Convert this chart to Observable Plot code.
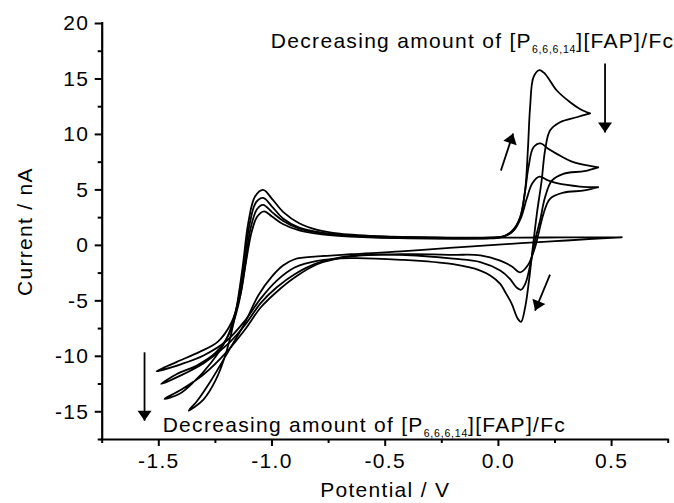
<!DOCTYPE html>
<html><head><meta charset="utf-8">
<script src="https://cdn.jsdelivr.net/npm/d3@7"></script>
<script src="https://cdn.jsdelivr.net/npm/@observablehq/plot@0.6"></script>
<style>
body{margin:0;background:#fff}
svg text{letter-spacing:1.3px}
svg text.note{letter-spacing:1.1px}
svg text.title{letter-spacing:2.6px}
</style>
</head><body><div id="chart"></div>
<script>
// Cyclic voltammograms, sweep order, [potential V, current nA]
const cvA = [[0.405,11.9],[0.346,11.55],[0.272,11.1],[0.228,10.35],[0.206,8.55],[0.191,5.84],[0.17,2.87],[0.153,0.0],[0.135,-3.2],[0.118,-5.6],[0.10,-6.9],[0.085,-6.6],[0.059,-5.27],[0.03,-4.2],[0.008,-3.47],[-0.036,-2.72],[-0.08,-2.27],[-0.2,-1.7],[-0.43,-1.3],[-0.65,-1.15],[-0.8,-1.4],[-0.9,-2.0],[-0.98,-3.2],[-1.05,-4.8],[-1.12,-6.8],[-1.2,-8.6],[-1.3,-9.9],[-1.4,-10.7],[-1.51,-11.35],[-1.42,-10.5],[-1.32,-9.6],[-1.24,-8.7],[-1.18,-7.0],[-1.14,-4.5],[-1.115,-1.5],[-1.09,1.2],[-1.065,2.6],[-1.035,3.07],[-1.0,2.6],[-0.95,1.9],[-0.88,1.35],[-0.78,1.0],[-0.6,0.75],[-0.3,0.62],[-0.05,0.62],[0.008,0.7],[0.04,0.95],[0.066,1.33],[0.096,2.53],[0.118,4.94],[0.13,8.55],[0.14,12.45],[0.155,15.16],[0.181,15.8],[0.206,15.46],[0.258,13.96],[0.317,12.9],[0.36,12.3],[0.405,11.9]];
const cvB = [[0.441,7.04],[0.38,6.7],[0.287,6.45],[0.236,5.84],[0.206,4.34],[0.184,2.24],[0.162,0.47],[0.14,-1.8],[0.12,-3.4],[0.10,-4.0],[0.08,-3.8],[0.05,-3.0],[0.008,-2.27],[-0.08,-1.5],[-0.2,-1.2],[-0.43,-0.85],[-0.65,-0.95],[-0.8,-1.6],[-0.9,-2.6],[-0.98,-3.8],[-1.05,-5.2],[-1.12,-7.2],[-1.2,-9.0],[-1.3,-10.6],[-1.4,-11.7],[-1.49,-12.49],[-1.42,-11.6],[-1.33,-10.8],[-1.25,-9.7],[-1.19,-8.0],[-1.15,-5.5],[-1.12,-2.0],[-1.095,1.5],[-1.065,3.3],[-1.039,3.65],[-1.0,3.0],[-0.95,2.2],[-0.88,1.5],[-0.78,1.1],[-0.6,0.8],[-0.3,0.65],[-0.05,0.65],[0.02,0.8],[0.06,1.3],[0.096,2.5],[0.118,4.9],[0.133,7.05],[0.155,8.85],[0.187,9.2],[0.22,8.7],[0.258,8.25],[0.331,7.5],[0.441,7.04]];
const cvC = [[0.441,5.24],[0.38,4.95],[0.287,4.75],[0.228,4.2],[0.199,2.84],[0.177,1.04],[0.16,-0.3],[0.13,-1.8],[0.096,-2.43],[0.06,-1.9],[0.008,-1.37],[-0.08,-0.9],[-0.2,-0.85],[-0.43,-0.8],[-0.65,-1.0],[-0.8,-1.7],[-0.9,-2.9],[-0.98,-4.2],[-1.05,-5.6],[-1.12,-7.6],[-1.2,-9.6],[-1.3,-11.6],[-1.4,-13.0],[-1.475,-13.84],[-1.41,-13.4],[-1.35,-12.4],[-1.27,-10.6],[-1.2,-8.4],[-1.155,-5.5],[-1.125,-2.0],[-1.1,1.8],[-1.07,3.9],[-1.039,4.28],[-1.0,3.5],[-0.95,2.4],[-0.88,1.6],[-0.78,1.15],[-0.6,0.85],[-0.3,0.7],[-0.05,0.7],[0.03,0.85],[0.07,1.4],[0.1,2.5],[0.125,4.2],[0.15,5.6],[0.181,6.2],[0.22,5.85],[0.258,5.6],[0.36,5.3],[0.441,5.24]];
const cvD = [[0.545,0.73],[0.4,0.56],[0.25,0.38],[0.1,0.2],[0.0,0.07],[-0.2,-0.2],[-0.43,-0.55],[-0.65,-0.8],[-0.8,-1.0],[-0.9,-1.25],[-0.95,-1.8],[-1.0,-2.8],[-1.06,-4.5],[-1.12,-7.0],[-1.2,-9.8],[-1.27,-12.2],[-1.33,-14.0],[-1.368,-14.9],[-1.303,-13.9],[-1.25,-12.2],[-1.2,-9.5],[-1.16,-6.0],[-1.13,-2.0],[-1.105,2.0],[-1.075,4.4],[-1.039,5.0],[-1.0,4.2],[-0.95,3.0],[-0.88,2.0],[-0.8,1.4],[-0.7,1.05],[-0.5,0.8],[-0.2,0.7],[0.1,0.7],[0.3,0.72],[0.545,0.73]];

const xTicks = [-1.5, -1.0, -0.5, 0.0, 0.5];
const xMinor = [-1.75, -1.25, -0.75, -0.25, 0.25, 0.75];
const yTicks = [-15, -10, -5, 0, 5, 10, 15, 20];
const yMinor = [-17.5, -12.5, -7.5, -2.5, 2.5, 7.5, 12.5, 17.5];

const annotText = "Decreasing amount of [P|6,6,6,14|][FAP]/Fc";
const notes = [{x: -1.005, y: 18.44}, {x: -1.483, y: -16.2}];
const arrows = [
  {x1: 0.471, y1: 16.39, x2: 0.471, y2: 10.17},
  {x1: 0.011, y1: 6.74, x2: 0.065, y2: 10.08},
  {x1: 0.228, y1: -2.63, x2: 0.162, y2: -5.88},
  {x1: -1.563, y1: -9.64, x2: -1.563, y2: -15.8}
];

const W = 674, H = 503, ML = 101.7, MR = 6.3, MT = 23, MB = 64;
const xDom = [-1.75, 0.75], yDom = [-17.5, 20];
const kx = (W - ML - MR) / (xDom[1] - xDom[0]);
const ky = (H - MT - MB) / (yDom[1] - yDom[0]);
arrows.forEach(a => {
  const dx = (a.x2 - a.x1) * kx, dy = -(a.y2 - a.y1) * ky;
  a.angle = Math.atan2(dx, -dy) * 180 / Math.PI;
});

const rows = [];
[["A", cvA], ["B", cvB], ["C", cvC], ["D", cvD]].forEach(([s, arr]) =>
  arr.forEach(([E, I]) => rows.push({s, E, I})));

const head = {draw(ctx) { ctx.moveTo(0, 0); ctx.lineTo(-7, 10); ctx.lineTo(7, 10); ctx.closePath(); }};

const fmtX = d => d.toFixed(1);
const fmtY = d => String(d);

const plot = Plot.plot({
  width: W, height: H,
  marginLeft: ML, marginRight: MR, marginTop: MT, marginBottom: MB,
  x: {domain: xDom},
  y: {domain: yDom},
  style: {fontFamily: "'Liberation Sans', Arial, sans-serif", fontSize: "21px", color: "#000", background: "#fff"},
  marks: [
    Plot.axisX({ticks: xTicks, tickSize: 7, tickPadding: 7, tickFormat: fmtX, label: null, strokeWidth: 2}),
    Plot.axisX({ticks: xMinor, tickSize: 4, tickFormat: () => "", label: null, strokeWidth: 2}),
    Plot.axisY({ticks: yTicks, tickSize: 7, tickPadding: 6, tickFormat: fmtY, label: null, strokeWidth: 2}),
    Plot.axisY({ticks: yMinor, tickSize: 4, tickFormat: () => "", label: null, strokeWidth: 2}),
    Plot.ruleX([xDom[0]], {strokeWidth: 2.2, strokeLinecap: "square"}),
    Plot.ruleY([yDom[0]], {strokeWidth: 2.2, strokeLinecap: "square"}),
    Plot.line(rows, {x: "E", y: "I", z: "s", curve: "catmull-rom", stroke: "#000", strokeWidth: 1.8}),
    Plot.link(arrows, {x1: "x1", y1: "y1", x2: "x2", y2: "y2", stroke: "#000", strokeWidth: 1.8}),
    Plot.dot(arrows, {x: "x2", y: "y2", symbol: head, rotate: "angle", fill: "#000", stroke: null, r: 6}),
    Plot.text(notes, {x: "x", y: "y", text: () => annotText, textAnchor: "start", fill: "#000", className: "note"}),
    Plot.text(["Potential / V"], {frameAnchor: "bottom", textAnchor: "middle", dy: 57, fill: "#000", className: "title"}),
    Plot.text(["Current / nA"], {frameAnchor: "left", textAnchor: "middle", dx: -77, rotate: -90, fill: "#000", className: "title"})
  ]
});

// subscript rendering
d3.select(plot).selectAll("text").each(function() {
  const t = this.textContent;
  if (t.indexOf("|") < 0) return;
  const [a, sub, b] = t.split("|");
  const el = d3.select(this);
  el.text(null);
  el.append("tspan").text(a);
  el.append("tspan").attr("font-size", "10.5px").attr("dy", "5").attr("letter-spacing", "0.8px").text(sub);
  el.append("tspan").attr("dy", "-5").text(b);
});

document.getElementById("chart").append(plot);
</script>
</body></html>
